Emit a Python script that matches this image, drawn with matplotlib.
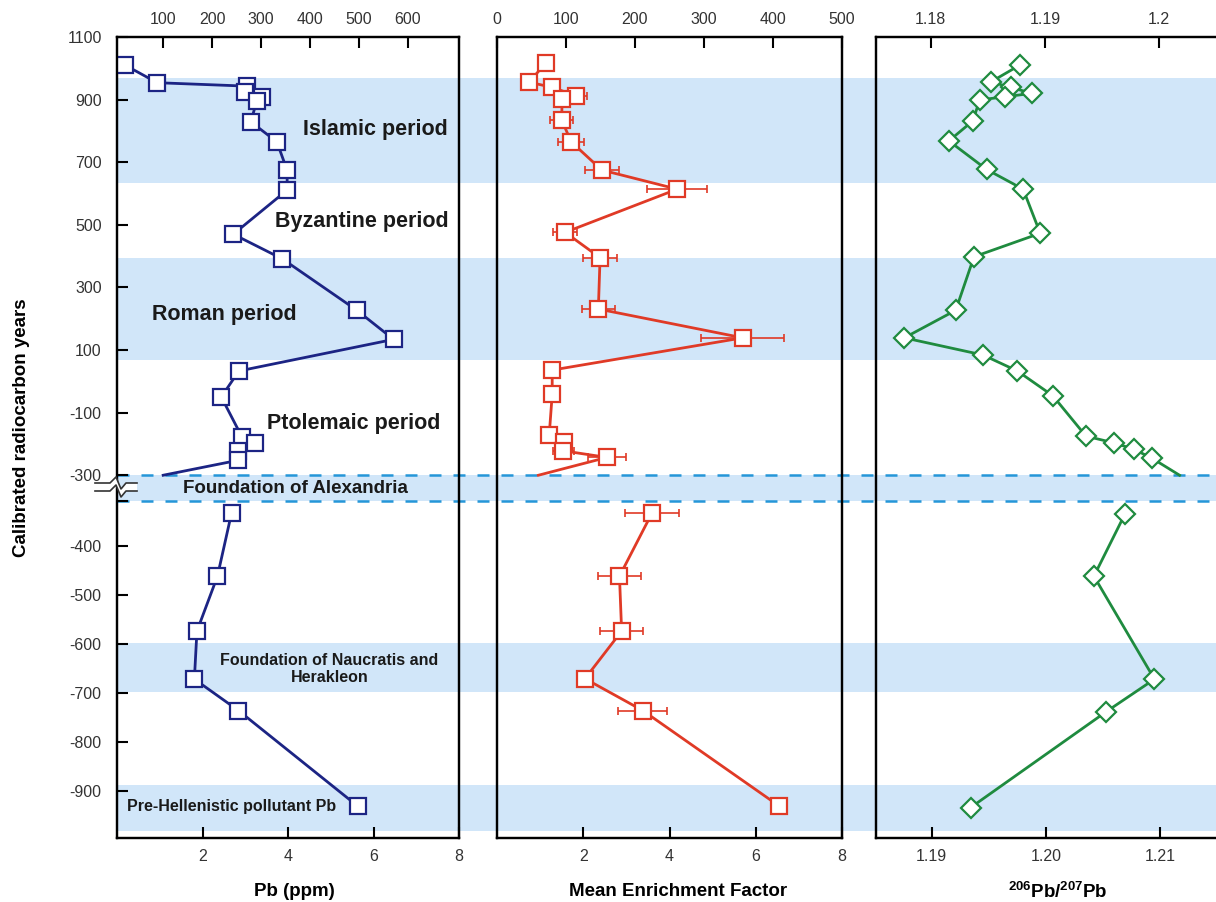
import numpy as np
import matplotlib
matplotlib.use("Agg")
import matplotlib.pyplot as plt
from matplotlib import patches

plt.rcParams['font.family'] = ['Liberation Sans', 'DejaVu Sans']
plt.rcParams['mathtext.fontset'] = 'custom'
plt.rcParams['mathtext.rm'] = 'Liberation Sans'
plt.rcParams['mathtext.bf'] = 'Liberation Sans:bold'

# ---- data (years = calibrated radiocarbon years) ----
# Pb (ppm)
pb_up_year = [1010, 954, 943, 924, 909, 896, 829, 765, 674, 611, 470, 391, 227, 134, 33, -50, -177, -198, -222, -252]
pb_up = [0.19, 0.94, 3.04, 2.99, 3.40, 3.27, 3.13, 3.74, 3.98, 3.98, 2.72, 3.87, 5.61, 6.47, 2.85, 2.44, 2.92, 3.23, 2.84, 2.84]
pb_break = 1.08
pb_low_year = [-332, -461, -573, -671, -735, -930]
pb_low = [2.68, 2.35, 1.87, 1.81, 2.84, 5.63]

# mean enrichment factor
ef_up_year = [1016, 956, 939, 912, 902, 835, 765, 675, 614, 476, 395, 231, 139, 36, -42, -173, -195, -222, -243]
ef_up = [1.13, 0.74, 1.28, 1.84, 1.51, 1.50, 1.72, 2.43, 4.18, 1.58, 2.39, 2.35, 5.70, 1.28, 1.28, 1.21, 1.56, 1.54, 2.55]
ef_up_err = [0, 0, 0, 0.24, 0.10, 0.26, 0.30, 0.40, 0.70, 0.27, 0.39, 0.39, 0.96, 0, 0, 0, 0, 0.25, 0.45]
ef_break = 0.96
ef_low_year = [-333, -461, -573, -670, -735, -929]
ef_low = [3.59, 2.84, 2.89, 2.04, 3.38, 6.53]
ef_low_err = [0.62, 0.49, 0.50, 0.10, 0.57, 0.10]

# 206Pb/207Pb
iso_up_year = [1010, 957, 939, 920, 909, 899, 832, 768, 677, 614, 473, 398, 227, 139, 84, 33, -46, -175, -197, -217, -246]
iso_up = [1.1977, 1.1952, 1.1969, 1.1988, 1.1964, 1.1942, 1.1936, 1.1915, 1.1948, 1.1980, 1.1995, 1.1937,
          1.1921, 1.1876, 1.1945, 1.1975, 1.2006, 1.2035, 1.2060, 1.2077, 1.2093]
iso_break = 1.2117
iso_low_year = [-335, -461, -671, -737, -933]
iso_low = [1.2069, 1.2042, 1.2095, 1.2053, 1.1934]

# shaded periods (year ranges)
band_ranges = [(633, 968), (68, 393), (-697, -597), (-981, -886)]
alex_range = (-308, -300)

y_ticks_up = [1100, 900, 700, 500, 300, 100, -100, -300]
y_ticks_low = [-400, -500, -600, -700, -800, -900]

# ---- broken y axis: two linear pieces joined at -300 ----
W, H = 1216, 902
BREAK = -300
K_UP, K_LOW = 438 / 1400, 0.49


def fwd(y):
    y = np.asarray(y, dtype=float)
    return np.where(y >= BREAK, -(37 + (1100 - y) * K_UP), -(546 + (-400 - y) * K_LOW))


def inv(v):
    p = -np.asarray(v, dtype=float)
    return np.where(p <= 37 + 1400 * K_UP, 1100 - (p - 37) / K_UP, -400 - (p - 546) / K_LOW)


YLIM = (-995, 1100)

navy = '#1c2484'
red = '#e03a26'
green = '#1f8b3f'
band_col = '#d1e6f9'
dash_col = '#2596d8'
tick_col = '#333333'

fig = plt.figure(figsize=(W / 100, H / 100), dpi=100)


def px_rect(x0, x1):
    return [x0 / W, (H - 838) / H, (x1 - x0) / W, 801 / H]


# background axes for the period bands
bg = fig.add_axes(px_rect(117, 1240), zorder=0)
bg.set_yscale('function', functions=(fwd, inv))
bg.set_ylim(YLIM)
bg.set_xlim(0, 1)
bg.axis('off')
for lo, hi in band_ranges:
    bg.axhspan(lo, hi, color=band_col, lw=0)
bg.axhspan(alex_range[0], alex_range[1], color=band_col, lw=0)
for yv in alex_range:
    bg.axhline(yv, color=dash_col, lw=1.8, ls=(0, (4.8, 4.8)))

panels = [
    dict(rect=px_rect(117, 459), xlim=(0, 8), xt=[2, 4, 6, 8], xtl=['2', '4', '6', '8'],
         txlim=(6, 704), txt=[100, 200, 300, 400, 500, 600], txtl=['100', '200', '300', '400', '500', '600']),
    dict(rect=px_rect(497, 842), xlim=(0, 8), xt=[2, 4, 6, 8], xtl=['2', '4', '6', '8'],
         txlim=(0, 500), txt=[0, 100, 200, 300, 400, 500], txtl=['0', '100', '200', '300', '400', '500']),
    dict(rect=px_rect(876, 1240), xlim=(1.18512, 1.21699), xt=[1.19, 1.20, 1.21], xtl=['1.19', '1.20', '1.21'],
         txlim=(1.17521, 1.20708), txt=[1.18, 1.19, 1.20], txtl=['1.18', '1.19', '1.2']),
]

axes = []
for i, p in enumerate(panels):
    ax = fig.add_axes(p['rect'], zorder=1)
    ax.patch.set_visible(False)
    ax.set_yscale('function', functions=(fwd, inv))
    ax.set_ylim(YLIM)
    ax.set_xlim(p['xlim'])
    ax.set_xticks(p['xt'])
    ax.set_xticklabels(p['xtl'])
    ax.tick_params(axis='x', direction='in', length=8, width=1.5, pad=8, labelsize=11.5, labelcolor=tick_col)
    if i == 0:
        ax.set_yticks(y_ticks_up + [-308] + y_ticks_low)
        ax.set_yticklabels([str(t) for t in y_ticks_up] + [''] + [str(t) for t in y_ticks_low])
        ax.yaxis.set_minor_locator(matplotlib.ticker.NullLocator())
        ax.tick_params(axis='y', direction='in', length=8, width=1.5, pad=11, labelsize=11.5, labelcolor=tick_col)
    else:
        ax.tick_params(axis='y', which='both', left=False, labelleft=False)
        ax.yaxis.set_minor_locator(matplotlib.ticker.NullLocator())
    for s in ax.spines.values():
        s.set_linewidth(1.6)
    axt = ax.twiny()
    axt.set_xlim(p['txlim'])
    axt.set_xticks(p['txt'])
    axt.set_xticklabels(p['txtl'])
    axt.tick_params(axis='x', direction='in', length=8, width=1.5, pad=7, labelsize=11.5, labelcolor=tick_col)
    for s in axt.spines.values():
        s.set_linewidth(1.6)
    axes.append(ax)

ax1, ax2, ax3 = axes

# Pb panel
ax1.plot(pb_up + [pb_break], pb_up_year + [BREAK], color=navy, lw=2, zorder=2)
ax1.plot(pb_up, pb_up_year, ls='none', marker='s', ms=11, mfc='white', mec=navy, mew=1.6, zorder=3)
ax1.plot(pb_low, pb_low_year, color=navy, lw=2, marker='s', ms=11, mfc='white', mec=navy, mew=1.6, zorder=3)

# enrichment factor panel
ax2.plot(ef_up + [ef_break], ef_up_year + [BREAK], color=red, lw=2, zorder=2)
ax2.errorbar(ef_up, ef_up_year, xerr=ef_up_err, fmt='none', ecolor=red, elinewidth=1.2, capsize=3, capthick=1.2, zorder=2)
ax2.plot(ef_up, ef_up_year, ls='none', marker='s', ms=11, mfc='white', mec=red, mew=1.6, zorder=3)
ax2.errorbar(ef_low, ef_low_year, xerr=ef_low_err, fmt='none', ecolor=red, elinewidth=1.2, capsize=3, capthick=1.2, zorder=2)
ax2.plot(ef_low, ef_low_year, color=red, lw=2, marker='s', ms=11, mfc='white', mec=red, mew=1.6, zorder=3)

# isotope ratio panel
ax3.plot(iso_up + [iso_break], iso_up_year + [BREAK], color=green, lw=2, zorder=2)
ax3.plot(iso_up, iso_up_year, ls='none', marker='D', ms=10.5, mfc='white', mec=green, mew=1.6, zorder=3)
ax3.plot(iso_low, iso_low_year, color=green, lw=2, marker='D', ms=10.5, mfc='white', mec=green, mew=1.6, zorder=3)

# period labels
lab = dict(fontweight='bold', color='#1a1a1a', ha='center', va='center', zorder=4)
ax1.text(6.04, 803, 'Islamic period', fontsize=15.5, **lab)
ax1.text(5.72, 510, 'Byzantine period', fontsize=15.5, **lab)
ax1.text(2.50, 214, 'Roman period', fontsize=15.5, **lab)
ax1.text(5.54, -135, 'Ptolemaic period', fontsize=15.5, **lab)
ax1.text(4.97, -650, 'Foundation of Naucratis and\nHerakleon', fontsize=11.5, linespacing=1.15, **lab)
ax1.text(2.67, -931, 'Pre-Hellenistic pollutant Pb', fontsize=11.5, **lab)
fig.text(295 / W, 1 - 488.5 / H, 'Foundation of Alexandria', fontsize=13.5, **lab)

# axis labels
ax1.set_xlabel('Pb (ppm)', fontsize=13.5, fontweight='bold')
ax2.set_xlabel('Mean Enrichment Factor', fontsize=13.5, fontweight='bold')
ax3.set_xlabel(r'$\mathbf{^{206}Pb/^{207}Pb}$', fontsize=13.5)
for ax, xc in zip(axes, [0.518, 0.525, 0.5]):
    ax.xaxis.set_label_coords(xc, -53.7 / 801)
    ax.xaxis.label.set_va('center')
ax1.set_ylabel('Calibrated radiocarbon years', fontsize=13.5, fontweight='bold')
ax1.yaxis.set_label_coords((22 - 117) / 342, (838 - 428) / 801)
ax1.yaxis.label.set_va('center')

# axis break mark on the left spine
def fx(x):
    return x / W


def fy(y):
    return 1 - y / H


zx = np.array([95, 110, 116, 121, 126, 137])
zy = np.array([0, 0, -6, 6, 0, 0])
gap = patches.Polygon(list(zip(fx(zx), fy(zy + 483))) + list(zip(fx(zx[::-1]), fy(zy[::-1] + 491))),
                      closed=True, transform=fig.transFigure, facecolor='white', edgecolor='none', zorder=5)
fig.patches.append(gap)
for off in (483, 491):
    fig.add_artist(matplotlib.lines.Line2D(fx(zx), fy(zy + off), color='#333333', lw=1.2, zorder=6))

fig.savefig('out.png', dpi=100)
